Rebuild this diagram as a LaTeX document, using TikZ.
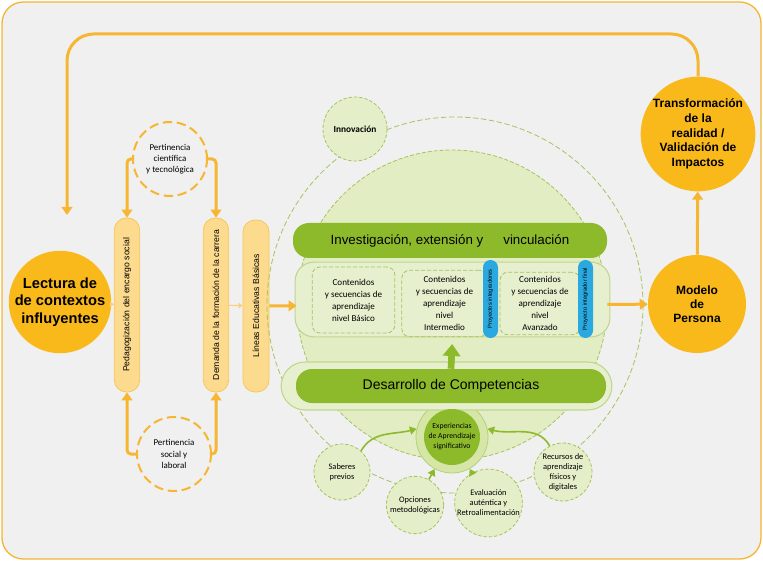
\documentclass[tikz,border=0pt]{standalone}
\usepackage{fontspec}
\usepackage{graphicx}
\setmainfont{Liberation Sans}
\newfontfamily\carlito{Carlito}
\usetikzlibrary{arrows.meta,positioning}

\definecolor{gold}{HTML}{F9B91B}
\definecolor{orangeline}{HTML}{F6B632}
\definecolor{paleorange}{HTML}{F9CF78}
\definecolor{boxfill}{HTML}{FDDB8E}
\definecolor{boxdraw}{HTML}{F8C65A}
\definecolor{bgfill}{HTML}{F0F0F0}
\definecolor{leaf}{HTML}{8DBA2B}
\definecolor{paleleaf}{HTML}{E2EDC3}
\definecolor{bubblefill}{HTML}{E4EEC9}
\definecolor{stagefill}{HTML}{E7F0CE}
\definecolor{ringfill}{HTML}{D5E6A6}
\definecolor{leafline}{HTML}{A5C45E}
\definecolor{sky}{HTML}{2AA9E0}

\tikzset{
  hub/.style={circle, fill=gold, align=center, inner sep=0pt},
  lane/.style={rounded corners=9pt, fill=boxfill, draw=boxdraw, line width=0.6pt,
    minimum width=19pt, minimum height=130.5pt, inner sep=0pt,
    font=\fontsize{6.5}{7}\selectfont},
  relevance/.style={circle, draw=orangeline, line width=1.5pt, dash pattern=on 7pt off 3.5pt,
    minimum size=55.5pt, inner sep=0pt, align=center, font=\carlito\fontsize{6.7}{8.4}\selectfont},
  bubble/.style={circle, fill=bubblefill, draw=leafline, line width=0.6pt,
    dash pattern=on 2.5pt off 1.5pt, align=center, inner sep=0pt,
    font=\carlito\fontsize{6.3}{7.5}\selectfont},
  bar/.style={fill=leaf, rounded corners=12pt, font=\fontsize{10}{12}\selectfont},
  unit/.style={draw=leafline, line width=0.6pt, dash pattern=on 3pt off 1.5pt,
    rounded corners=6pt, align=center, inner sep=0pt, font=\carlito\fontsize{6.8}{9}\selectfont},
  pill/.style={fill=sky, rounded corners=5.6pt, minimum width=11.25pt, minimum height=58.5pt,
    inner sep=0pt, font=\fontsize{4.3}{5}\selectfont},
  flow/.style={draw=orangeline, line width=2.25pt, -{Triangle[width=8pt,length=6pt]}},
  thin flow/.style={draw=paleorange, line width=0.8pt, -{Triangle[width=4pt,length=3pt]}},
  feed/.style={draw=leaf, line width=1.2pt, -{Triangle[width=6pt,length=5pt]}},
  lift/.style={draw=leaf, line width=5pt, -{Triangle[width=13pt,length=9pt]}, shorten >=5pt},
}

\begin{document}
\begin{tikzpicture}[x=0.75pt,y=0.75pt]
  \useasboundingbox (0,0) rectangle (763,561);
  \draw[draw=orangeline, fill=bgfill, line width=1pt, rounded corners=16pt] (2,2) rectangle (761,559);

  \node[hub, minimum size=76pt, font=\bfseries\fontsize{11}{13}\selectfont] (lectura) at (60,259) {Lectura de\\de contextos\\influyentes};
  \node[lane] (ped) at (127,256) {\rotatebox{90}{Pedagogización del encargo social}};
  \node[lane] (demanda) at (216,256) {\rotatebox{90}{Demanda de la formación de la carrera}};
  \node[lane, minimum width=19.5pt, minimum height=129pt] (lineas) at (256,255) {\rotatebox{90}{Líneas Educativas Básicas}};
  \node[relevance] (cientifica) at (170,402) {Pertinencia\\científica\\y tecnológica};
  \node[relevance] (social) at (174,107) {Pertinencia\\social y\\laboral};

  \node[circle, draw=leafline, line width=0.6pt, dash pattern=on 4pt off 2pt, minimum size=282pt] (halo) at (455,256) {};
  \node[circle, fill=paleleaf, draw=leafline, line width=0.6pt, dash pattern=on 3pt off 1.5pt, minimum size=232.5pt] (core) at (452,256) {};
  \node[bubble, minimum size=48pt, font=\carlito\bfseries\fontsize{7}{8}\selectfont] (innov) at (355,432) {Innovación};

  \node[bar, minimum width=235.5pt, minimum height=26.25pt] (research) at (450,320.5) {Investigación, extensión y\hspace{15pt}vinculación};
  \node[fill=stagefill, draw=leafline!70, line width=0.8pt, rounded corners=14pt, minimum width=236pt, minimum height=56pt] (stage) at (452.5,261.5) {};
  \node[unit, minimum width=62pt, minimum height=49.5pt] (basic) at (353.5,261) {Contenidos\\y secuencias de\\aprendizaje\\nivel Básico};
  \node[unit, minimum width=64pt, minimum height=50pt] (inter) at (444.5,257.5) {Contenidos\\y secuencias de\\aprendizaje\\nivel\\Intermedio};
  \node[unit, minimum width=60pt, minimum height=47pt] (advanced) at (540,257.5) {Contenidos\\y secuencias de\\aprendizaje\\nivel\\Avanzado};
  \node[pill] (projA) at (490.5,262) {\rotatebox{90}{Proyectos integradores}};
  \node[pill] (projB) at (585.5,262) {\rotatebox{90}{Proyecto integrador final}};

  \node[circle, fill=ringfill, draw=leafline!80, line width=0.6pt, minimum size=54pt] (expring) at (452,124) {};
  \node[fill=stagefill, draw=leafline!70, line width=0.8pt, rounded corners=18pt, minimum width=248pt, minimum height=36pt] (compbase) at (446.5,175) {};
  \node[bar, minimum width=232.5pt, minimum height=25.5pt, font=\fontsize{10.5}{12}\selectfont] (comp) at (451,175) {Desarrollo de Competencias};
  \node[circle, fill=leaf, minimum size=42pt, inner sep=0pt, align=center, font=\carlito\fontsize{5.8}{7.5}\selectfont] (exp) at (452,124) {Experiencias\\de Aprendizaje\\significativo};

  \node[bubble, minimum size=42pt] (saberes) at (342,89) {Saberes\\previos};
  \node[bubble, minimum size=43pt] (opciones) at (415,56) {Opciones\\metodológicas};
  \node[bubble, minimum size=47pt] (evaluacion) at (488.5,58) {Evaluación\\auténtica y\\Retroalimentación};
  \node[bubble, minimum size=43.5pt] (recursos) at (563,89) {Recursos de\\aprendizaje\\físicos y\\digitales};

  \node[hub, minimum size=73.5pt, font=\bfseries\fontsize{9}{10.5}\selectfont] (modelo) at (697,257) {Modelo\\de\\Persona};
  \node[hub, minimum size=86pt, font=\bfseries\fontsize{9}{11}\selectfont] (transf) at (698,427) {Transformación\\de la\\realidad /\\Validación de\\Impactos};

  \coordinate (turn) at (67,527);
  \coordinate (back) at (67,346);

  \draw[thin flow] (lectura) -- (ped);
  \draw[thin flow] (demanda) -- (lineas);
  \draw[flow, rounded corners=3pt] (cientifica.west) -| (ped.north);
  \draw[flow, rounded corners=3pt] (cientifica.east) -| (demanda.north);
  \draw[flow, rounded corners=3pt] (social.west) -| (ped.south);
  \draw[flow, rounded corners=3pt] (social.east) -| (demanda.south);
  \draw[flow] (lineas) -- (core);
  \draw[flow] (core) -- (modelo);
  \draw[flow] (modelo) -- (transf);
  \draw[flow, rounded corners=20pt] (transf.north) |- (turn) -- (back);
  \draw[lift] (comp.north) -- (stage.south);
  \draw[feed] (saberes.48) to[out=60, in=195] (expring.167);
  \draw[feed] (recursos.117) to[out=120, in=-15] (expring.13);
  \draw[feed] (opciones) -- (expring);
  \draw[feed] (evaluacion) -- (expring);
\end{tikzpicture}
\end{document}
